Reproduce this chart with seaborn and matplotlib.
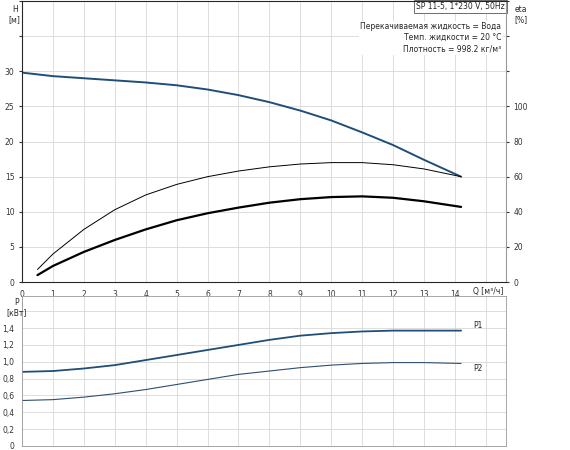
import numpy as np, pandas as pd
import matplotlib
matplotlib.use("Agg")
import matplotlib.pyplot as plt
import seaborn as sns

sns.set_style("white")
plt.rcParams['font.family'] = ['DejaVu Sans']

q = [0, 1, 2, 3, 4, 5, 6, 7, 8, 9, 10, 11, 12, 13, 14.2]
head = [29.8, 29.3, 29.0, 28.7, 28.4, 28.0, 27.4, 26.6, 25.6, 24.4, 23.0, 21.3, 19.5, 17.4, 15.0]
q_eta = [0.5, 1, 2, 3, 4, 5, 6, 7, 8, 9, 10, 11, 12, 13, 14.2]
eta_pump = [7.2, 16, 30, 41.2, 49.6, 55.6, 60, 63.2, 65.6, 67.2, 68, 68, 66.8, 64.4, 60]
eta_total = [4, 9.2, 17.2, 24, 30, 35.2, 39.2, 42.4, 45.2, 47.2, 48.4, 48.8, 48, 46, 42.8]
p1 = [0.88, 0.89, 0.92, 0.96, 1.02, 1.08, 1.14, 1.20, 1.26, 1.31, 1.34, 1.36, 1.37, 1.37, 1.37]
p2 = [0.54, 0.55, 0.58, 0.62, 0.67, 0.73, 0.79, 0.85, 0.89, 0.93, 0.96, 0.98, 0.99, 0.99, 0.98]

FS = 5.5
BLUE = '#1f4e79'
fig = plt.figure(figsize=(5.7, 4.5), dpi=100)
L, W = 0.0386, 0.849
ax = fig.add_axes([L, 0.373, W, 0.625])
ax2 = ax.twinx()
axp = fig.add_axes([L, 0.009, W, 0.333])

sns.lineplot(x=q, y=head, ax=ax, color=BLUE, lw=1.4)
sns.lineplot(x=q_eta, y=eta_pump, ax=ax2, color='black', lw=0.7)
sns.lineplot(x=q_eta, y=eta_total, ax=ax2, color='black', lw=1.6)
sns.lineplot(x=q, y=p1, ax=axp, color=BLUE, lw=1.3)
sns.lineplot(x=q, y=p2, ax=axp, color='#2f4f6f', lw=0.8)

XMAX = 15.65
for a in (ax, axp):
    a.set_xlim(0, XMAX)
    a.set_xticks(np.arange(0, 16, 1))
    a.grid(True, color='#d8d8d8', lw=0.6)
    a.tick_params(labelsize=FS, length=2, colors='#333333')
    for s in a.spines.values():
        s.set_color('#999999'); s.set_linewidth(0.6)
ax2.spines['right'].set_color('#999999')
ax.set_ylim(0, 40)
ax.set_yticks(np.arange(0, 41, 5))
ax.set_yticklabels([str(v) if v <= 30 else '' for v in range(0, 41, 5)])
ax2.set_ylim(0, 160)
ax2.set_yticks(np.arange(0, 161, 20))
ax2.set_yticklabels([str(v) if v <= 100 else '' for v in range(0, 161, 20)])
ax2.tick_params(labelsize=FS, length=2, colors='#333333')
ax.set_xticklabels([str(v) if v <= 14 else '' for v in range(16)])
axp.set_xticklabels([])
axp.set_ylim(0, 1.78)
axp.set_yticks(np.arange(0, 1.7, 0.2))
axp.set_yticklabels([f"{v:.1f}".replace('.', ',') if 0 < v < 1.5 else ('0' if v == 0 else '') for v in np.arange(0, 1.7, 0.2)])

ax.text(-0.015, 0.985, "H\n[м]", transform=ax.transAxes, ha='center', va='top', fontsize=FS)
ax2.text(1.03, 0.985, "eta\n[%]", transform=ax2.transAxes, ha='center', va='top', fontsize=FS)
ax.text(0.995, -0.035, "Q [м³/ч]", transform=ax.transAxes, ha='right', va='center', fontsize=FS)
axp.text(-0.012, 0.99, "P\n[кВт]", transform=axp.transAxes, ha='center', va='top', fontsize=FS)
axp.text(14.6, 1.4, "P1", fontsize=FS)
axp.text(14.6, 0.89, "P2", fontsize=FS)
ax.text(0.998, 0.995, "SP 11-5, 1*230 V, 50Hz", transform=ax.transAxes, ha='right', va='top',
        fontsize=FS, bbox=dict(facecolor='white', edgecolor='#555555', lw=0.6, pad=1.5))
ax.text(0.99, 0.925, "Перекачиваемая жидкость = Вода\nТемп. жидкости = 20 °C\nПлотность = 998.2 кг/м³",
        transform=ax.transAxes, ha='right', va='top', fontsize=FS, linespacing=1.3,
        bbox=dict(facecolor='white', edgecolor='none', pad=1))

fig.savefig("out.png", dpi=100)
